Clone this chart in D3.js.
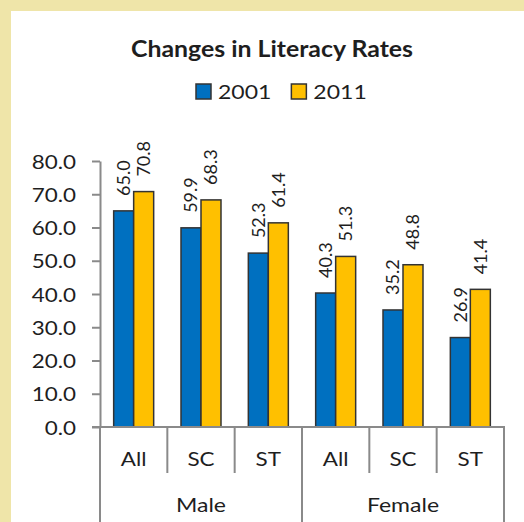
<!DOCTYPE html>
<html>
<head>
<meta charset="utf-8">
<script src="https://cdn.jsdelivr.net/npm/d3@7"></script>
<style>
  html, body { margin: 0; padding: 0; background: #efe5a9; }
  svg { display: block; }
  text { font-family: Lato, "Open Sans", sans-serif; fill: #1e1e1e; }
</style>
</head>
<body>
<div id="chart"></div>
<script>
// chart data
var groups = ["Male", "Female"];
var subgroups = ["All", "SC", "ST"];
var seriesNames = ["2001", "2011"];
var values2001 = [65.0, 59.9, 52.3, 40.3, 35.2, 26.9];
var values2011 = [70.8, 68.3, 61.4, 51.3, 48.8, 41.4];
var yTicks = [0, 10, 20, 30, 40, 50, 60, 70, 80];

var colors = {"2001": "#0070c0", "2011": "#ffc000"};

var rows = [];
groups.forEach(function(g, gi) {
    subgroups.forEach(function(s, si) {
        var i = gi * subgroups.length + si;
        rows.push({key: g + "-" + s, group: g, sub: s, "2001": values2001[i], "2011": values2011[i]});
    });
});

var W = 524, H = 522;
var margin = {top: 161, left: 100, right: 20, bottom: 95};
var width = W - margin.left - margin.right;
var height = H - margin.top - margin.bottom;

// stretch text horizontally (reference font is wider than Lato)
function stretch(sel, k) {
    sel.each(function() {
        var w = this.getComputedTextLength();
        d3.select(this).attr("textLength", w * k).attr("lengthAdjust", "spacingAndGlyphs");
    });
}

var svg = d3.select("#chart").append("svg").attr("width", W).attr("height", H);
svg.append("rect").attr("x", 11).attr("y", 11).attr("width", W - 11).attr("height", H - 11).attr("fill", "#ffffff");

var g = svg.append("g").attr("transform", `translate(${margin.left},${margin.top})`);

var xCell = d3.scaleBand().domain(rows.map(d => d.key)).range([0, width]);
var x = d3.scaleBand().domain(rows.map(d => d.key)).range([0, width]).paddingInner(0.406).paddingOuter(0.203);
var xSeries = d3.scaleBand().domain(seriesNames).range([0, x.bandwidth()]);
var y = d3.scaleLinear().domain([0, 80]).range([height, 0]);

// y axis
var yAxis = g.append("g")
    .call(d3.axisLeft(y).tickValues(yTicks).tickFormat(d3.format(".1f")).tickSize(8).tickSizeOuter(0).tickPadding(16));
yAxis.select(".domain").attr("stroke", "#8a8a8a").attr("stroke-width", 2);
yAxis.selectAll(".tick line").attr("stroke", "#8a8a8a").attr("stroke-width", 2);
yAxis.selectAll(".tick text").attr("font-size", 19.5).attr("font-family", "Lato").attr("fill", "#1e1e1e").attr("dy", "0.36em")
    .call(stretch, 1.15);

// bars
var cat = g.selectAll(".cat").data(rows).enter().append("g").attr("class", "cat")
    .attr("transform", d => `translate(${x(d.key)},0)`);

cat.selectAll("rect").data(d => seriesNames.map(s => ({s: s, v: d[s]}))).enter().append("rect")
    .attr("x", d => xSeries(d.s)).attr("y", d => y(d.v))
    .attr("width", xSeries.bandwidth()).attr("height", d => height - y(d.v))
    .attr("fill", d => colors[d.s]).attr("stroke", "#333").attr("stroke-width", 1.5);

cat.selectAll(".lbl").data(d => seriesNames.map(s => ({s: s, v: d[s]}))).enter().append("text").attr("class", "lbl")
    .attr("transform", d => `translate(${xSeries(d.s) + xSeries.bandwidth() / 2},${y(d.v) - 15}) rotate(-90)`)
    .attr("dy", "0.36em").attr("font-size", 18).text(d => d.v.toFixed(1));

// x axis line and category dividers
g.append("line").attr("x1", -8).attr("x2", width + 1).attr("y1", height).attr("y2", height)
    .attr("stroke", "#8a8a8a").attr("stroke-width", 2);

var bounds = rows.map(d => xCell(d.key)).concat([width]);
g.selectAll(".div").data(bounds).enter().append("line").attr("class", "div")
    .attr("x1", d => d).attr("x2", d => d).attr("y1", height)
    .attr("y2", (d, i) => i % subgroups.length === 0 ? H - margin.top : height + 46)
    .attr("stroke", "#8a8a8a").attr("stroke-width", 2);

g.selectAll(".sublbl").data(rows).enter().append("text").attr("class", "sublbl")
    .attr("x", d => xCell(d.key) + xCell.bandwidth() / 2).attr("y", height + 39)
    .attr("text-anchor", "middle").attr("font-size", 19.5).text(d => d.sub)
    .call(stretch, 1.15);

g.selectAll(".grplbl").data(groups).enter().append("text").attr("class", "grplbl")
    .attr("x", (d, i) => xCell.step() * subgroups.length * (i + 0.5)).attr("y", height + 85)
    .attr("text-anchor", "middle").attr("font-size", 20).text(d => d)
    .call(stretch, 1.15);

// title
svg.append("text").attr("x", 272).attr("y", 57).attr("text-anchor", "middle")
    .attr("font-size", 22).attr("font-weight", "bold").text("Changes in Literacy Rates")
    .call(stretch, 1.13);

// legend
var lx = 196;
seriesNames.forEach(function(s) {
    svg.append("rect").attr("x", lx).attr("y", 84).attr("width", 15).attr("height", 15)
        .attr("fill", colors[s]).attr("stroke", "#333").attr("stroke-width", 1.5);
    var t = svg.append("text").attr("x", lx + 22).attr("y", 98.5).attr("font-size", 20).text(s);
    var w = t.node().getComputedTextLength() * 1.15;
    t.attr("textLength", w).attr("lengthAdjust", "spacingAndGlyphs");
    lx += 22 + w + 20;
});
</script>
</body>
</html>
